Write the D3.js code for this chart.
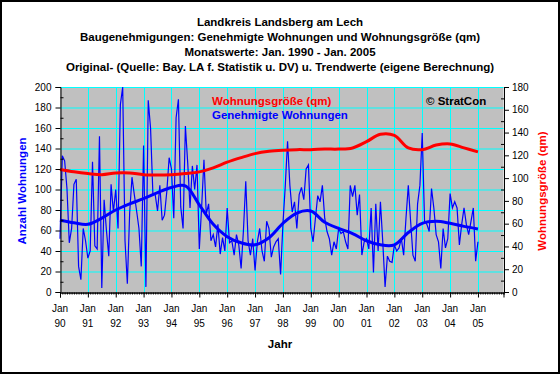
<!DOCTYPE html>
<html>
<head>
<meta charset="utf-8">
<script src="https://cdn.jsdelivr.net/npm/d3@7"></script>
<style>
  body { margin: 0; background: #fff; }
  text { font-family: Arial, "Liberation Sans", sans-serif; }
</style>
</head>
<body>
<script>
var width = 560,
    height = 374;

// Titelzeilen
var titles = [
    "Landkreis Landsberg am Lech",
    "Baugenehmigungen: Genehmigte Wohnungen und Wohnungsgröße (qm)",
    "Monatswerte: Jan. 1990 - Jan. 2005",
    "Original- (Quelle: Bay. LA f. Statistik u. DV) u. Trendwerte (eigene Berechnung)"
];

// x-Achse: ein Tick je Januar
var monthLabels = ["Jan", "Jan", "Jan", "Jan", "Jan", "Jan", "Jan", "Jan",
                   "Jan", "Jan", "Jan", "Jan", "Jan", "Jan", "Jan", "Jan"];
var yearLabels = ["90", "91", "92", "93", "94", "95", "96", "97",
                  "98", "99", "00", "01", "02", "03", "04", "05"];

// Genehmigte Wohnungen, Monatswerte Jan 1990 .. Jan 2005
var wohnungen = [].concat(
    [52, 133, 128, 101, 48, 62, 105, 110, 25, 12, 62, 50],     // 1990
    [33, 40, 127, 45, 42, 152, 4, 90, 60, 35, 105, 78],        // 1991
    [100, 62, 183, 200, 50, 8, 77, 112, 95, 79, 62, 25],       // 1992
    [143, 5, 187, 160, 96, 95, 79, 104, 70, 75, 98, 131],      // 1993
    [120, 72, 170, 188, 83, 62, 162, 126, 82, 123, 100, 124],  // 1994
    [42, 83, 129, 76, 86, 50, 56, 44, 66, 37, 53, 40],         // 1995
    [82, 48, 50, 36, 56, 46, 23, 60, 108, 50, 36, 52],         // 1996
    [21, 49, 62, 40, 30, 69, 62, 34, 44, 49, 52, 17],          // 1997
    [66, 103, 147, 104, 78, 88, 62, 95, 102, 90, 120, 124],    // 1998
    [62, 49, 72, 94, 88, 104, 72, 59, 52, 36, 49, 42],         // 1999
    [62, 57, 59, 49, 42, 104, 93, 104, 75, 95, 36, 49],        // 2000
    [52, 42, 82, 19, 86, 40, 88, 49, 5, 35, 30, 29],           // 2001
    [46, 40, 43, 52, 36, 72, 104, 69, 36, 30, 86, 104],        // 2002
    [155, 69, 66, 59, 101, 82, 56, 49, 23, 62, 43, 52],        // 2003
    [96, 82, 88, 82, 46, 66, 82, 66, 56, 69, 82, 30],          // 2004
    [49]                                                       // Jan 2005
);

var trendMonths = [0, 6, 12, 18, 24, 30, 36, 42, 48, 54, 60, 66, 72, 78, 84, 90,
                   96, 102, 108, 114, 120, 126, 132, 138, 144, 150, 156, 162, 168, 174, 180];
var trendWohnungen = [70, 67.5, 66, 72, 80, 86, 91, 97, 102, 103.5, 85, 66, 54, 48, 46, 53,
                      67, 77, 79, 68, 62, 57, 50, 46, 46, 58, 67, 69, 67, 64, 61.5];
var trendGroesse = [107.5, 105.5, 104, 103, 104.5, 104.5, 103, 102.7, 103, 104, 105.5, 109, 114, 118, 121.5, 123.5,
                    124.5, 125, 125, 125.5, 125.5, 126.5, 132, 138.5, 137.5, 126.5, 125, 129, 130, 126.5, 123];

var leftTicks = d3.range(0, 201, 20);
var rightTicks = d3.range(0, 181, 20);

var svg = d3.select("body").append("svg")
    .attr("width", width)
    .attr("height", height);

svg.append("rect")
    .attr("x", 0).attr("y", 0)
    .attr("width", width).attr("height", height)
    .attr("fill", "#fff");

var x = d3.scaleLinear().domain([0, 191]).range([60, 503.5]);
var yL = d3.scaleLinear().domain([0, 200]).range([292, 87]);
var yR = d3.scaleLinear().domain([0, 180]).range([292, 87]);

// Zeichenfläche
svg.append("rect")
    .attr("x", x(0)).attr("y", yL(200))
    .attr("width", x(191) - x(0)).attr("height", yL(0) - yL(200))
    .attr("fill", "#c0c0c0");

// Gitter
svg.append("g").selectAll("line")
    .data(leftTicks.slice(1))
    .enter().append("line")
    .attr("x1", x(0)).attr("x2", x(191))
    .attr("y1", function(d) { return yL(d) + 0.5; })
    .attr("y2", function(d) { return yL(d) + 0.5; })
    .attr("stroke", "#00ffff");

svg.append("g").selectAll("line")
    .data(yearLabels.slice(1))
    .enter().append("line")
    .attr("x1", function(d, i) { return Math.round(x((i + 1) * 12)) + 0.5; })
    .attr("x2", function(d, i) { return Math.round(x((i + 1) * 12)) + 0.5; })
    .attr("y1", yL(200)).attr("y2", yL(0))
    .attr("stroke", "#00ffff");

// Linien
var lineMonthly = d3.line()
    .x(function(d, i) { return x(i); })
    .y(function(d) { return yL(d); });

svg.append("path")
    .datum(wohnungen)
    .attr("d", lineMonthly)
    .attr("fill", "none")
    .attr("stroke", "#0000ff")
    .attr("stroke-width", 1.2);

var lineTrend = d3.line()
    .curve(d3.curveCatmullRom)
    .x(function(d, i) { return x(trendMonths[i]); })
    .y(function(d) { return yL(d); });

svg.append("path")
    .datum(trendWohnungen)
    .attr("d", lineTrend)
    .attr("fill", "none")
    .attr("stroke", "#0000ff")
    .attr("stroke-width", 3);

var lineGroesse = d3.line()
    .curve(d3.curveCatmullRom)
    .x(function(d, i) { return x(trendMonths[i]); })
    .y(function(d) { return yR(d); });

svg.append("path")
    .datum(trendGroesse)
    .attr("d", lineGroesse)
    .attr("fill", "none")
    .attr("stroke", "#ff0000")
    .attr("stroke-width", 3);

// Achsen
svg.append("g")
    .attr("transform", "translate(" + (x(0) + 0.5) + ",0)")
    .call(d3.axisLeft(yL).tickValues(leftTicks).tickSize(5).tickPadding(4));

svg.append("g")
    .attr("transform", "translate(" + (x(0) + 0.5) + ",0)")
    .call(d3.axisRight(yL).tickValues(d3.range(10, 200, 20)).tickSize(3).tickFormat(""))
    .select(".domain").remove();

svg.append("g")
    .attr("transform", "translate(" + (x(191) + 0.5) + ",0)")
    .call(d3.axisRight(yR).tickValues(rightTicks).tickSize(5).tickPadding(3));

svg.append("g")
    .attr("transform", "translate(" + (x(191) + 0.5) + ",0)")
    .call(d3.axisLeft(yR).tickValues(d3.range(10, 180, 20)).tickSize(3).tickFormat(""))
    .select(".domain").remove();

svg.append("g")
    .attr("transform", "translate(0," + (yL(0) + 0.5) + ")")
    .call(d3.axisBottom(x).tickValues(d3.range(0, 192)).tickSize(2).tickFormat(""));

svg.append("g")
    .attr("transform", "translate(0," + (yL(0) + 0.5) + ")")
    .call(d3.axisBottom(x).tickValues(d3.range(0, 192, 12)).tickSize(5).tickFormat(""));

svg.selectAll(".domain").attr("stroke", "#000");
svg.selectAll(".tick line").attr("stroke", "#000");
svg.selectAll(".tick text")
    .style("font-size", "10px")
    .attr("fill", "#000");

// x-Beschriftung zweizeilig
var xlab = svg.append("g").selectAll("text")
    .data(yearLabels)
    .enter().append("text")
    .attr("text-anchor", "middle")
    .style("font-size", "10px");
xlab.append("tspan")
    .attr("x", function(d, i) { return x(i * 12); })
    .attr("y", 312)
    .text(function(d, i) { return monthLabels[i]; });
xlab.append("tspan")
    .attr("x", function(d, i) { return x(i * 12); })
    .attr("y", 327)
    .text(function(d) { return d; });

// Titel
svg.append("g").selectAll("text")
    .data(titles)
    .enter().append("text")
    .attr("x", 280)
    .attr("y", function(d, i) { return 25.5 + i * 15.2; })
    .attr("text-anchor", "middle")
    .style("font-size", "11.5px")
    .style("font-weight", "bold")
    .text(function(d) { return d; });

svg.append("text")
    .attr("x", 280).attr("y", 348)
    .attr("text-anchor", "middle")
    .style("font-size", "11.5px")
    .style("font-weight", "bold")
    .text("Jahr");

svg.append("text")
    .attr("transform", "translate(22,191) rotate(-90)")
    .attr("text-anchor", "middle")
    .attr("dy", "0.35em")
    .attr("fill", "#0000ff")
    .style("font-size", "11.5px")
    .style("font-weight", "bold")
    .text("Anzahl Wohnungen");

svg.append("text")
    .attr("transform", "translate(542,191) rotate(-90)")
    .attr("text-anchor", "middle")
    .attr("dy", "0.35em")
    .attr("fill", "#ff0000")
    .style("font-size", "11.5px")
    .style("font-weight", "bold")
    .text("Wohnungsgröße (qm)");

// Legende
svg.append("text")
    .attr("x", 212).attr("y", 105)
    .attr("fill", "#ff0000")
    .style("font-size", "11.5px")
    .style("font-weight", "bold")
    .text("Wohnungsgröße (qm)");

svg.append("text")
    .attr("x", 212).attr("y", 119)
    .attr("fill", "#0000ff")
    .style("font-size", "11.5px")
    .style("font-weight", "bold")
    .text("Genehmigte Wohnungen");

svg.append("text")
    .attr("x", 426).attr("y", 105)
    .attr("fill", "#000")
    .style("font-size", "11.5px")
    .style("font-weight", "bold")
    .text("© StratCon");

// Rahmen
svg.append("rect")
    .attr("x", 1).attr("y", 1)
    .attr("width", width - 2).attr("height", height - 2)
    .attr("fill", "none")
    .attr("stroke", "#000")
    .attr("stroke-width", 2);
</script>
</body>
</html>
